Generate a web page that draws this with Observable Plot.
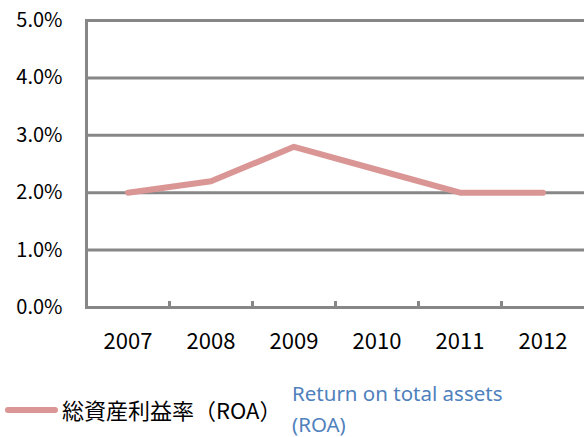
<!DOCTYPE html>
<html><head><meta charset="utf-8">
<script src="https://cdn.jsdelivr.net/npm/d3@7"></script>
<script src="https://cdn.jsdelivr.net/npm/@observablehq/plot@0.6"></script>
<style>
body{margin:0;background:#fff;font-family:"Noto Sans CJK JP","Noto Sans",sans-serif;}
#wrap{width:584px;height:437px;position:relative;overflow:hidden;}
#legend{position:relative;height:77px;}
#sw{position:absolute;left:5px;top:47px;width:53px;height:6px;border-radius:3px;background:#d99694;}
#jp{position:absolute;left:62px;top:34px;font-size:22px;color:#000;white-space:nowrap;line-height:30px;}
#en{position:absolute;left:292px;top:18px;font-size:20.5px;color:#4f81bd;line-height:31px;font-family:"Noto Sans",sans-serif;width:260px;}
</style></head>
<body><div id="wrap"><div id="chart"></div><div id="legend"><div id="sw"></div><div id="jp">総資産利益率（ROA）</div><div id="en">Return on total assets<br>(ROA)</div></div></div>
<script>
const years = [2007, 2008, 2009, 2010, 2011, 2012];
const roa = [2.0, 2.2, 2.8, 2.4, 2.0, 2.0];
const yTicks = [0, 1, 2, 3, 4, 5];
const boundaries = years.slice(1).map(y => y - 0.5);
const data = years.map((y, i) => ({year: y, value: roa[i]}));
const gray = "#878787";
const chart = Plot.plot({
  width: 584, height: 360,
  marginLeft: 86, marginRight: 0, marginTop: 20, marginBottom: 53,
  style: {fontFamily: '"Noto Sans CJK JP","Noto Sans",sans-serif', fontSize: "20px", color: "#000", background: "#fff"},
  x: {domain: [years[0] - 0.5, years[years.length - 1] + 0.5]},
  y: {domain: [0, 5]},
  marks: [
    Plot.gridY(yTicks, {stroke: gray, strokeOpacity: 1, strokeWidth: 3}),
    Plot.frame({anchor: "left", stroke: gray, strokeWidth: 3}),
    Plot.axisY(yTicks, {tickSize: 0, tickPadding: 24, tickFormat: d => d.toFixed(1) + "%", label: null, fontSize: 20}),
    Plot.axisX(boundaries, {tickSize: -6, tickFormat: () => "", label: null, stroke: gray, strokeWidth: 3}),
    Plot.axisX(years, {tickSize: 0, tickPadding: 26, tickFormat: d => String(d), label: null, fontSize: 22}),
    Plot.line(data, {x: "year", y: "value", stroke: "#d99694", strokeWidth: 6, strokeLinecap: "round", strokeLinejoin: "round"})
  ]
});
document.getElementById("chart").appendChild(chart);
</script></body></html>
